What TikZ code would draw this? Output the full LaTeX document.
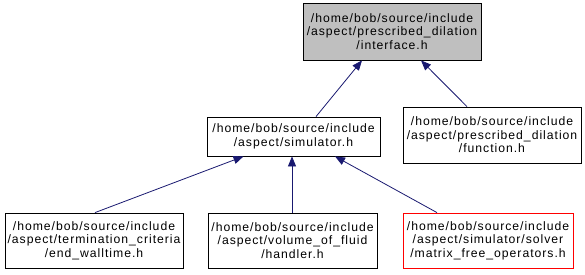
\documentclass[tikz,border=0pt]{standalone}
\usepackage{fontspec}
\setmainfont[LetterSpace=8]{Liberation Sans}
\usetikzlibrary{arrows.meta,calc}
\definecolor{edgeblue}{HTML}{191970}
\definecolor{topgray}{HTML}{BFBFBF}
\tikzset{
  file/.style={draw=black, line width=0.8pt, align=center, inner sep=0pt,
    font=\fontsize{12.2}{13.4}\selectfont, text=black},
  edge/.style={draw=edgeblue, line width=0.8pt, {Triangle[length=10pt,width=8pt]}-}
}
\begin{document}
\begin{tikzpicture}[x=1pt,y=-1pt]
\useasboundingbox (0,0) rectangle (585,275);
\node[file, fill=topgray, minimum width=178pt, minimum height=57pt] (top) at (392,31.5)
  {/home/bob/source/include\\/aspect/prescribed\_dilation\\/interface.h};
\node[file, minimum width=173pt, minimum height=39pt] (sim) at (293.5,136.5)
  {/home/bob/source/include\\/aspect/simulator.h};
\node[file, minimum width=178pt, minimum height=56pt] (fun) at (492,135)
  {/home/bob/source/include\\/aspect/prescribed\_dilation\\/function.h};
\node[file, minimum width=178pt, minimum height=55pt] (endw) at (94,240.5)
  {/home/bob/source/include\\/aspect/termination\_criteria\\/end\_walltime.h};
\node[file, minimum width=169pt, minimum height=55pt] (vof) at (292.5,240.5)
  {/home/bob/source/include\\/aspect/volume\_of\_fluid\\/handler.h};
\node[file, draw=red, minimum width=170pt, minimum height=55pt] (mfo) at (488,240.5)
  {/home/bob/source/include\\/aspect/simulator/solver\\/matrix\_free\_operators.h};
\draw[edge] ($(top.south)+(-30,0)$) -- ($(sim.north)+(22.5,0)$);
\draw[edge] ($(top.south)+(29,0)$) -- ($(fun.north)+(-25,0)$);
\draw[edge] ($(sim.south)+(-50,0)$) -- ($(endw.north)+(1,0)$);
\draw[edge] ($(sim.south)+(-1.5,0)$) -- ($(vof.north)+(-0.5,0)$);
\draw[edge] ($(sim.south)+(41.5,0)$) -- ($(mfo.north)+(-51,0)$);
\end{tikzpicture}
\end{document}
